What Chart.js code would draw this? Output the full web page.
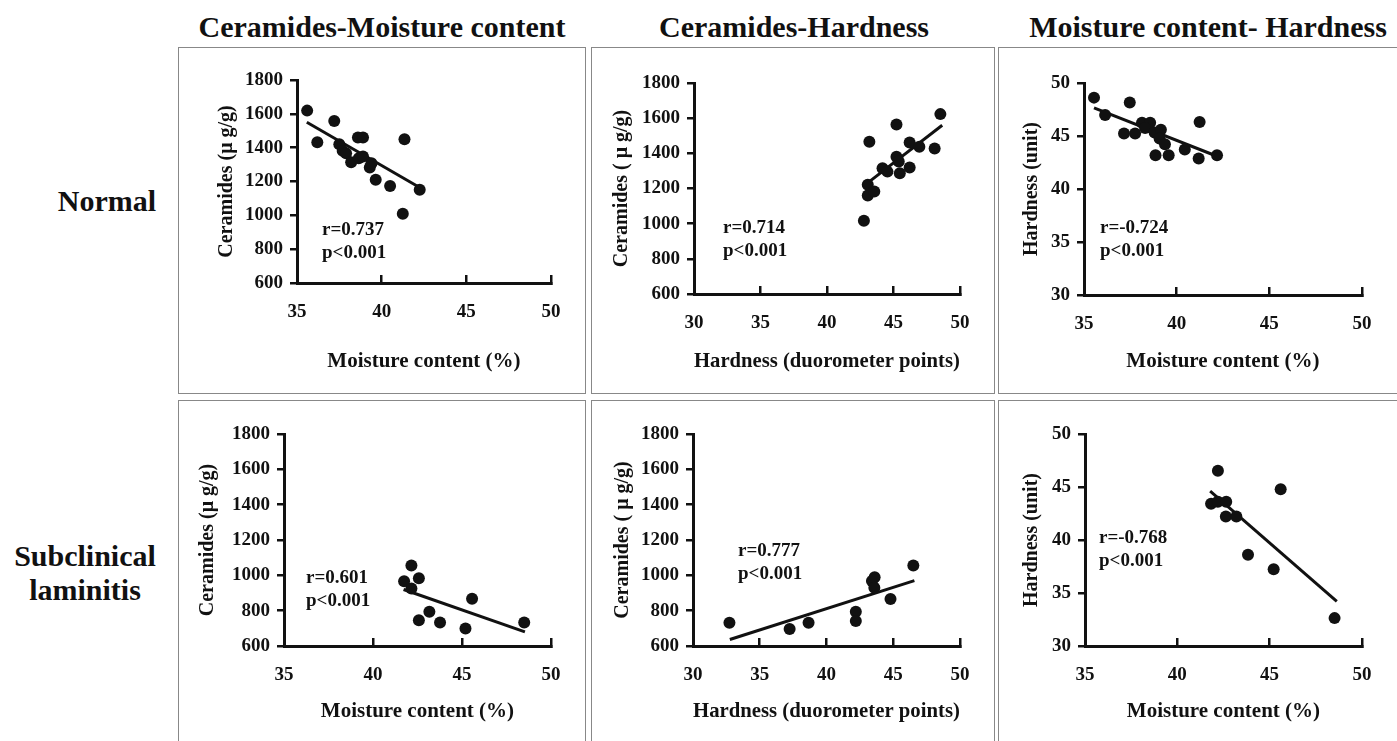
<!DOCTYPE html>
<html>
<head>
<meta charset="utf-8">
<script src="https://cdn.jsdelivr.net/npm/chart.js"></script>
<style>
  html, body { margin: 0; padding: 0; background: #fff; }
  body { width: 1397px; height: 741px; position: relative; overflow: hidden;
         font-family: "Liberation Serif", "Times New Roman", serif; color: #111; }
  .head { position: absolute; font-weight: bold; font-size: 30px; white-space: nowrap;
          transform: translate(-50%, -50%); text-align: center; line-height: 34px; }
  .box { position: absolute; border: 1px solid #888; box-sizing: border-box; }
  canvas { position: absolute; }
</style>
</head>
<body>

<div class="head" style="left:382px; top:27px;">Ceramides-Moisture content</div>
<div class="head" style="left:794px; top:27px;">Ceramides-Hardness</div>
<div class="head" style="left:1208px; top:27px;">Moisture content- Hardness</div>
<div class="head" style="left:107px; top:201px;">Normal</div>
<div class="head" style="left:85px; top:573px;">Subclinical<br>laminitis</div>

<script>
// ---------------- data ----------------
// Normal: ceramides vs moisture
const normMoistureA = [35.6, 36.2, 37.2, 37.5, 37.7, 37.9, 38.2, 38.6, 38.9, 38.65, 38.9, 39.3, 39.4, 39.65, 40.5, 41.35, 41.25, 42.25];
const normCeramidesA = [1619, 1432, 1558, 1420, 1381, 1367, 1314, 1460, 1460, 1338, 1348, 1283, 1308, 1210, 1174, 1450, 1009, 1151];
const normFitA_x = [35.58, 42.4];
const normFitA_y = [1550, 1156];

// Normal: ceramides vs hardness
const normHardnessB = [42.78, 43.19, 43.07, 43.07, 43.56, 44.18, 44.55, 45.23, 45.23, 45.4, 45.48, 46.22, 46.22, 46.95, 48.1, 48.53];
const normCeramidesB = [1017, 1466, 1160, 1221, 1183, 1315, 1296, 1564, 1381, 1353, 1287, 1462, 1319, 1438, 1428, 1623];
const normFitB_x = [42.7, 48.67];
const normFitB_y = [1211, 1560];

// Normal: hardness vs moisture
const normMoistureC = [35.54, 36.14, 37.16, 37.47, 37.76, 38.13, 38.57, 38.3, 38.81, 39.15, 39.08, 39.37, 38.86, 39.57, 40.44, 41.19, 41.24, 42.18];
const normHardnessC = [48.62, 46.98, 45.23, 48.15, 45.23, 46.26, 46.26, 45.76, 45.32, 45.6, 44.76, 44.22, 43.19, 43.19, 43.72, 42.87, 46.33, 43.19];
const normFitC_x = [35.54, 42.18];
const normFitC_y = [47.65, 43.09];

// Subclinical laminitis: ceramides vs moisture
const subMoistureA = [41.75, 42.16, 42.16, 42.58, 42.58, 43.17, 43.77, 45.2, 45.57, 48.5];
const subCeramidesA = [967, 1056, 926, 983, 746, 794, 733, 699, 868, 733];
const subFitA_x = [41.72, 48.54];
const subFitA_y = [920, 680];

// Subclinical laminitis: ceramides vs hardness
const subHardnessB = [32.73, 37.24, 38.66, 42.2, 42.2, 43.41, 43.61, 43.59, 44.8, 46.51];
const subCeramidesB = [732, 696, 732, 794, 741, 968, 989, 930, 866, 1055];
const subFitB_x = [32.76, 46.59];
const subFitB_y = [637, 970];

// Subclinical laminitis: hardness vs moisture
const subMoistureC = [41.83, 42.2, 42.2, 42.65, 42.63, 43.2, 43.83, 45.22, 45.6, 48.52];
const subHardnessC = [43.43, 46.54, 43.6, 43.6, 42.22, 42.22, 38.6, 37.24, 44.78, 32.63];
const subFitC_x = [41.78, 48.64];
const subFitC_y = [44.6, 34.22];

const rTexts = ["r=0.737", "r=0.714", "r=-0.724", "r=0.601", "r=0.777", "r=-0.768"];
const pText = "p<0.001";

const ceramideTicks = { min: 600, max: 1800, step: 200 };
const hardnessTicks = { min: 30, max: 50, step: 5 };
const moistureTicks = { min: 35, max: 50, step: 5 };

const moistureTitle = "Moisture content (%)";
const hardnessTitle = "Hardness (duorometer points)";
const ceramideTitleA = "Ceramides (\u03bc g/g)";
const ceramideTitleB = "Ceramides ( \u03bc g/g)";
const hardnessUnitTitle = "Hardness (unit)";

// ---------------- layout ----------------
const W = 1397, H = 741;
const INK = "#111";
const FAMILY = "'Liberation Serif', 'Times New Roman', serif";

// note plugin: r / p text inside each panel
const notePlugin = {
  id: "note",
  afterDraw(chart, args, opts) {
    const ctx = chart.ctx;
    ctx.save();
    ctx.fillStyle = INK;
    ctx.font = "bold 19px " + FAMILY;
    ctx.textBaseline = "middle";
    ctx.textAlign = "left";
    ctx.fillText(opts.r, opts.x, opts.y1);
    ctx.fillText(pText, opts.x, opts.y2);
    ctx.restore();
  }
};

function plain(v) { return String(v); }

function makePanel(g, xs, ys, fitX, fitY, xr, yr, xTitle, yTitle, rText) {
  const right = Math.min(g.boxR, W), bottom = Math.min(g.boxB, H);
  const box = document.createElement("div");
  box.className = "box";
  box.style.left = g.boxL + "px"; box.style.top = g.boxT + "px";
  box.style.width = (g.boxR - g.boxL) + "px"; box.style.height = (g.boxB - g.boxT) + "px";
  document.body.appendChild(box);

  const cv = document.createElement("canvas");
  cv.width = right - g.boxL; cv.height = bottom - g.boxT;
  cv.style.left = g.boxL + "px"; cv.style.top = g.boxT + "px";
  document.body.appendChild(cv);

  const yScaleLeft = g.yTitleX - 12;      // title 20px, line height 24
  const xScaleBottom = g.xTitleY + 12.6;  // title 21px, line height 25.2

  new Chart(cv.getContext("2d"), {
    type: "scatter",
    data: {
      datasets: [
        {
          data: xs.map((x, i) => ({ x: x, y: ys[i] })),
          pointRadius: 6, pointHoverRadius: 6,
          backgroundColor: INK, borderColor: INK, borderWidth: 0
        },
        {
          type: "line",
          data: fitX.map((x, i) => ({ x: x, y: fitY[i] })),
          borderColor: INK, borderWidth: 3, pointRadius: 0, fill: false
        }
      ]
    },
    options: {
      responsive: false,
      animation: false,
      events: [],
      layout: {
        padding: {
          left: yScaleLeft - g.boxL,
          top: g.areaT - g.boxT,
          right: right - g.areaR,
          bottom: bottom - xScaleBottom
        }
      },
      plugins: {
        legend: { display: false },
        tooltip: { enabled: false },
        note: { r: rText, x: g.noteX - g.boxL, y1: g.noteY - g.boxT, y2: g.noteY + 23 - g.boxT }
      },
      scales: {
        x: {
          type: "linear", min: xr.min, max: xr.max,
          ticks: { stepSize: xr.step, callback: plain, color: INK, padding: 25.6, font: { family: FAMILY, size: 19, weight: "bold" } },
          grid: { drawOnChartArea: false, tickLength: -8, color: INK, lineWidth: 2.5 },
          border: { color: INK, width: 3 },
          title: { display: true, text: xTitle, color: INK, padding: 0, font: { family: FAMILY, size: 21, weight: "bold" } },
          afterFit(s) { s.height = xScaleBottom - g.areaB; }
        },
        y: {
          type: "linear", min: yr.min, max: yr.max,
          ticks: { stepSize: yr.step, callback: plain, color: INK, padding: 7, font: { family: FAMILY, size: 19, weight: "bold" } },
          grid: { drawOnChartArea: false, tickLength: 7, color: INK, lineWidth: 2.5 },
          border: { color: INK, width: 3 },
          title: { display: true, text: yTitle, color: INK, padding: 0, font: { family: FAMILY, size: 20, weight: "bold" } },
          afterFit(s) { s.width = g.areaL - yScaleLeft; }
        }
      }
    },
    plugins: [notePlugin]
  });
}

makePanel({ boxL: 178, boxT: 47, boxR: 586, boxB: 394, areaL: 297, areaT: 80, areaR: 557, areaB: 283, yTitleX: 227, xTitleY: 362, noteX: 322, noteY: 230 },
  normMoistureA, normCeramidesA, normFitA_x, normFitA_y, moistureTicks, ceramideTicks, moistureTitle, ceramideTitleA, rTexts[0]);
makePanel({ boxL: 591, boxT: 47, boxR: 995, boxB: 394, areaL: 694, areaT: 83, areaR: 966, areaB: 294, yTitleX: 622, xTitleY: 362, noteX: 723, noteY: 228 },
  normHardnessB, normCeramidesB, normFitB_x, normFitB_y, hardnessTicks, ceramideTicks, hardnessTitle, ceramideTitleB, rTexts[1]);
makePanel({ boxL: 998, boxT: 47, boxR: 1420, boxB: 394, areaL: 1084, areaT: 83, areaR: 1378, areaB: 295, yTitleX: 1032, xTitleY: 362, noteX: 1100, noteY: 228 },
  normMoistureC, normHardnessC, normFitC_x, normFitC_y, moistureTicks, hardnessTicks, moistureTitle, hardnessUnitTitle, rTexts[2]);
makePanel({ boxL: 178, boxT: 400, boxR: 586, boxB: 760, areaL: 284, areaT: 434, areaR: 557, areaB: 646, yTitleX: 208, xTitleY: 712, noteX: 306, noteY: 578 },
  subMoistureA, subCeramidesA, subFitA_x, subFitA_y, moistureTicks, ceramideTicks, moistureTitle, ceramideTitleA, rTexts[3]);
makePanel({ boxL: 591, boxT: 400, boxR: 995, boxB: 760, areaL: 693, areaT: 434, areaR: 967, areaB: 646, yTitleX: 623, xTitleY: 712, noteX: 738, noteY: 551 },
  subHardnessB, subCeramidesB, subFitB_x, subFitB_y, hardnessTicks, ceramideTicks, hardnessTitle, ceramideTitleB, rTexts[4]);
makePanel({ boxL: 998, boxT: 400, boxR: 1420, boxB: 760, areaL: 1085, areaT: 434, areaR: 1377, areaB: 646, yTitleX: 1032, xTitleY: 712, noteX: 1099, noteY: 538 },
  subMoistureC, subHardnessC, subFitC_x, subFitC_y, moistureTicks, hardnessTicks, moistureTitle, hardnessUnitTitle, rTexts[5]);
</script>
</body>
</html>
